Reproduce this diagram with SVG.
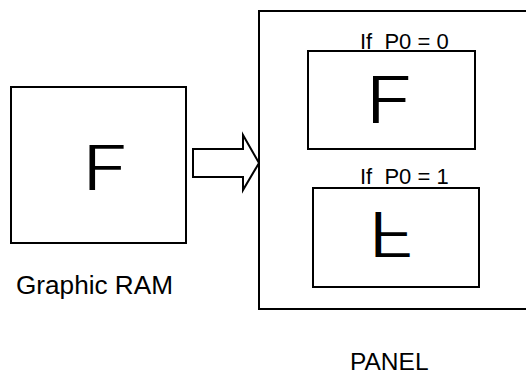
<svg xmlns="http://www.w3.org/2000/svg" width="526" height="375" viewBox="0 0 526 375">
<style>
.box{fill:#fff;stroke:#000;stroke-width:2}
.t{font-family:"Liberation Sans",Arial,sans-serif;fill:#000;white-space:pre}
.big{font-family:Inter,"Liberation Sans",sans-serif;font-weight:300;fill:#000}
</style>
<rect width="526" height="375" fill="#fff"/>
<g id="graphic-ram">
<rect class="box" x="11" y="87" width="175" height="156"/>
<text class="big" font-size="62" text-anchor="middle" transform="translate(105.5,190) scale(1.3,1)">F</text>
<text class="t" font-size="26.5" x="16" y="294" textLength="157" lengthAdjust="spacingAndGlyphs">Graphic RAM</text>
</g>
<g id="connectors">
<polygon class="box" stroke-linejoin="miter" points="193,149 243,149 243,135 259,163 243,190 243,177 193,177"/>
</g>
<g id="panel">
<rect class="box" x="259" y="11" width="272" height="298"/>
<text class="t" font-size="24.5" x="350" y="370">PANEL</text>
</g>
<g id="p0-0">
<text class="t" font-size="22" x="360" y="49">If  P0 = 0</text>
<rect class="box" x="308" y="51" width="167" height="98"/>
<text class="big" font-size="64" text-anchor="middle" transform="translate(389.5,123) scale(1.3,1)">F</text>
</g>
<g id="p0-1">
<text class="t" font-size="22" x="360" y="184">If  P0 = 1</text>
<rect class="box" x="313" y="188" width="166" height="99"/>
<text class="big" font-size="62" text-anchor="middle" transform="translate(391.5,212) scale(1.3,-1)">F</text>
</g>
</svg>
